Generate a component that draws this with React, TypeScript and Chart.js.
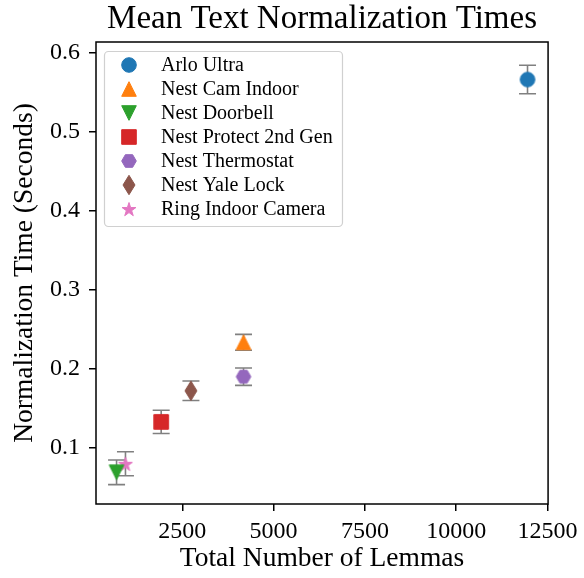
import React, { useEffect, useRef } from 'react';
import { Chart, registerables } from 'chart.js';

Chart.register(...registerables);

// ---- data ----
const deviceNames = [
  'Arlo Ultra',
  'Nest Cam Indoor',
  'Nest Doorbell',
  'Nest Protect 2nd Gen',
  'Nest Thermostat',
  'Nest Yale Lock',
  'Ring Indoor Camera',
];
const lemmaCounts = [11954, 4176, 699, 1921, 4176, 2736, 943];
const meanTimes = [0.566, 0.2335, 0.069, 0.1328, 0.19, 0.1722, 0.0798];
const timeErrors = [0.018, 0.0101, 0.0156, 0.0147, 0.011, 0.0124, 0.0152];
const seriesColors = ['#1f77b4', '#ff7f0e', '#2ca02c', '#d62728', '#9467bd', '#8c564b', '#e377c2'];
const markerShapes = ['circle', 'triangleUp', 'triangleDown', 'square', 'hexagon', 'thinDiamond', 'star'];
const xTickValues = [2500, 5000, 7500, 10000, 12500];
const yTickValues = [0.1, 0.2, 0.3, 0.4, 0.5, 0.6];
const chartTitle = 'Mean Text Normalization Times';
const xAxisTitle = 'Total Number of Lemmas';
const yAxisTitle = 'Normalization Time (Seconds)';

const FONT = '"Liberation Serif", "Times New Roman", serif';

function makeMarker(shape: string, color: string): HTMLCanvasElement {
  const size = 28;
  const c = document.createElement('canvas');
  c.width = size;
  c.height = size;
  const ctx = c.getContext('2d')!;
  const cx = size / 2;
  const cy = size / 2;
  const ms = 14.6;
  const r = ms / 2;
  ctx.fillStyle = color;
  ctx.strokeStyle = color;
  ctx.lineWidth = 1;
  ctx.lineJoin = 'miter';
  ctx.beginPath();
  switch (shape) {
    case 'circle':
      ctx.arc(cx, cy, r, 0, Math.PI * 2);
      break;
    case 'triangleUp':
      ctx.moveTo(cx, cy - r);
      ctx.lineTo(cx + r, cy + r);
      ctx.lineTo(cx - r, cy + r);
      ctx.closePath();
      break;
    case 'triangleDown':
      ctx.moveTo(cx, cy + r);
      ctx.lineTo(cx + r, cy - r);
      ctx.lineTo(cx - r, cy - r);
      ctx.closePath();
      break;
    case 'square':
      ctx.rect(cx - r, cy - r, ms, ms);
      break;
    case 'hexagon':
      for (let k = 0; k < 6; k++) {
        const a = (k * Math.PI) / 3;
        const px = cx + r * Math.cos(a);
        const py = cy + r * Math.sin(a);
        if (k === 0) ctx.moveTo(px, py);
        else ctx.lineTo(px, py);
      }
      ctx.closePath();
      break;
    case 'thinDiamond': {
      const h = ms * 1.33;
      const w = ms * 0.82;
      ctx.moveTo(cx, cy - h / 2);
      ctx.lineTo(cx + w / 2, cy);
      ctx.lineTo(cx, cy + h / 2);
      ctx.lineTo(cx - w / 2, cy);
      ctx.closePath();
      break;
    }
    case 'star': {
      const R = r;
      const ri = R * 0.382;
      for (let k = 0; k < 10; k++) {
        const rad = k % 2 === 0 ? R : ri;
        const a = -Math.PI / 2 + (k * Math.PI) / 5;
        const px = cx + rad * Math.cos(a);
        const py = cy + rad * Math.sin(a) + 0.8;
        if (k === 0) ctx.moveTo(px, py);
        else ctx.lineTo(px, py);
      }
      ctx.closePath();
      break;
    }
  }
  ctx.fill();
  ctx.stroke();
  return c;
}

const errorBarPlugin = {
  id: 'errorBars',
  beforeDatasetsDraw(chart: any) {
    const { ctx, scales } = chart;
    const xs = scales.x;
    const ys = scales.y;
    ctx.save();
    ctx.strokeStyle = '#808080';
    ctx.lineWidth = 1.6;
    chart.data.datasets.forEach((ds: any) => {
      ds.data.forEach((pt: any, j: number) => {
        const err = ds.errors[j];
        const px = xs.getPixelForValue(pt.x);
        const top = ys.getPixelForValue(pt.y + err);
        const bot = ys.getPixelForValue(pt.y - err);
        const cap = 8.5;
        ctx.beginPath();
        ctx.moveTo(px, top);
        ctx.lineTo(px, bot);
        ctx.moveTo(px - cap, top);
        ctx.lineTo(px + cap, top);
        ctx.moveTo(px - cap, bot);
        ctx.lineTo(px + cap, bot);
        ctx.stroke();
      });
    });
    ctx.restore();
  },
};

const framePlugin = {
  id: 'frame',
  afterDatasetsDraw(chart: any) {
    const { ctx, chartArea } = chart;
    ctx.save();
    ctx.strokeStyle = '#000000';
    ctx.lineWidth = 1.5;
    ctx.strokeRect(chartArea.left, chartArea.top, chartArea.right - chartArea.left, chartArea.bottom - chartArea.top);
    ctx.restore();
  },
};

const titlePlugin = {
  id: 'areaTitle',
  afterDraw(chart: any) {
    const { ctx, chartArea } = chart;
    ctx.save();
    ctx.font = `33px ${FONT}`;
    ctx.fillStyle = '#000000';
    ctx.textAlign = 'center';
    ctx.textBaseline = 'alphabetic';
    ctx.fillText(chartTitle, (chartArea.left + chartArea.right) / 2, 28);
    ctx.restore();
  },
};

const legendPlugin = {
  id: 'boxLegend',
  afterDraw(chart: any) {
    const { ctx } = chart;
    const boxX = 104.5;
    const boxY = 51.5;
    const boxW = 238;
    const boxH = 175;
    ctx.save();
    ctx.beginPath();
    ctx.roundRect(boxX, boxY, boxW, boxH, 4);
    ctx.fillStyle = 'rgba(255,255,255,0.8)';
    ctx.fill();
    ctx.strokeStyle = '#d0d0d0';
    ctx.lineWidth = 1.2;
    ctx.stroke();
    ctx.font = `20px ${FONT}`;
    ctx.fillStyle = '#000000';
    ctx.textBaseline = 'middle';
    ctx.textAlign = 'left';
    chart.data.datasets.forEach((ds: any, i: number) => {
      const rowY = 65 + 24 * i;
      const img = ds.pointStyle as HTMLCanvasElement;
      ctx.drawImage(img, 129 - img.width / 2, rowY - img.height / 2);
      ctx.fillText(ds.label, 161, rowY + 1);
    });
    ctx.restore();
  },
};

export default function App() {
  const canvasRef = useRef<HTMLCanvasElement | null>(null);

  useEffect(() => {
    document.body.style.margin = '0';
    const canvas = canvasRef.current;
    if (!canvas) return;

    const datasets = deviceNames.map((name, i) => ({
      label: name,
      data: [{ x: lemmaCounts[i], y: meanTimes[i] }],
      errors: [timeErrors[i]],
      pointStyle: makeMarker(markerShapes[i], seriesColors[i]),
      backgroundColor: seriesColors[i],
      borderColor: seriesColors[i],
      pointRadius: 8,
      showLine: false,
    }));

    const chart = new Chart(canvas, {
      type: 'scatter',
      data: { datasets: datasets as any },
      options: {
        animation: false,
        responsive: false,
        events: [],
        layout: { padding: { left: 0, right: 32, top: 42, bottom: 0 } },
        plugins: {
          legend: { display: false },
          tooltip: { enabled: false },
          title: { display: false, text: chartTitle },
        },
        scales: {
          x: {
            type: 'linear',
            min: 136,
            max: 12517,
            afterBuildTicks: (s: any) => {
              s.ticks = xTickValues.map((v) => ({ value: v }));
            },
            afterFit: (s: any) => {
              s.height = 74;
            },
            border: { display: false },
            grid: {
              drawOnChartArea: false,
              drawTicks: true,
              tickLength: 7,
              tickColor: '#000000',
              lineWidth: 1.5,
            },
            ticks: {
              color: '#000000',
              font: { family: FONT, size: 24, lineHeight: 1.2 },
              padding: 6.5,
              maxRotation: 0,
              autoSkip: false,
              callback: (v: any) => String(v),
            },
            title: {
              display: true,
              text: xAxisTitle,
              color: '#000000',
              font: { family: FONT, size: 27.5, lineHeight: 1.2 },
              padding: { top: 0, bottom: 3 },
            },
          },
          y: {
            type: 'linear',
            min: 0.0289,
            max: 0.6135,
            afterBuildTicks: (s: any) => {
              s.ticks = yTickValues.map((v) => ({ value: v }));
            },
            afterFit: (s: any) => {
              s.width = 96;
            },
            border: { display: false },
            grid: {
              drawOnChartArea: false,
              drawTicks: true,
              tickLength: 7,
              tickColor: '#000000',
              lineWidth: 1.5,
            },
            ticks: {
              color: '#000000',
              font: { family: FONT, size: 24, lineHeight: 1.2 },
              padding: 9,
              autoSkip: false,
              callback: (v: any) => String(v),
            },
            title: {
              display: true,
              text: yAxisTitle,
              color: '#000000',
              font: { family: FONT, size: 27.5, lineHeight: 1.2 },
              padding: { top: 8, bottom: 0 },
            },
          },
        },
      },
      plugins: [errorBarPlugin, framePlugin, titlePlugin, legendPlugin],
    });

    return () => {
      chart.destroy();
    };
  }, []);

  return (
    <div style={{ width: 584, height: 578, background: '#ffffff' }}>
      <canvas ref={canvasRef} width={584} height={578} style={{ display: 'block' }} />
    </div>
  );
}
